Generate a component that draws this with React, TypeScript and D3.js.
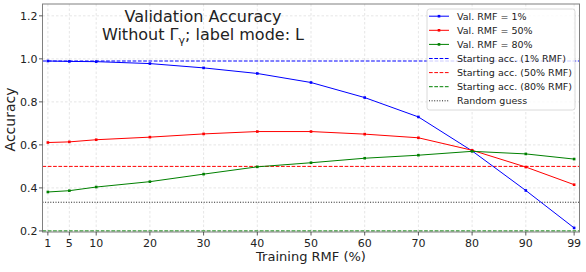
import React from "react";
import * as d3 from "d3";

const xTicks = [1, 5, 10, 20, 30, 40, 50, 60, 70, 80, 90, 99];
const yTicks = [0.2, 0.4, 0.6, 0.8, 1.0, 1.2];
const rmf1 = [0.99, 0.988, 0.987, 0.978, 0.958, 0.932, 0.89, 0.82, 0.73, 0.572, 0.388, 0.214];
const rmf50 = [0.611, 0.614, 0.624, 0.636, 0.651, 0.662, 0.662, 0.65, 0.633, 0.575, 0.497, 0.415];
const rmf80 = [0.381, 0.387, 0.404, 0.429, 0.464, 0.498, 0.517, 0.538, 0.552, 0.57, 0.558, 0.534];
const startAcc = [0.99, 0.5, 0.2];
const randomGuess = 1 / 3;
const seriesNames = ["Val. RMF = 1%", "Val. RMF = 50%", "Val. RMF = 80%"];
const startNames = ["Starting acc. (1% RMF)", "Starting acc. (50% RMF)", "Starting acc. (80% RMF)"];
const colors = ["#0000ff", "#ff0000", "#008000"];

const W = 586, H = 272;
const L = 42.5, R = 579.5, T = 4, B = 232;
const FONT = "DejaVu Sans, sans-serif";

export default function App() {
  const x = d3.scaleLinear().domain([0, 100]).range([L, R]);
  const y = d3.scaleLinear().domain([0.195, 1.255]).range([B, T]);
  const line = d3.line<number>().x((_, i) => x(xTicks[i])).y((d) => y(d));
  const series = [rmf1, rmf50, rmf80];
  const legendItems = [
    ...seriesNames.map((n, i) => ({ name: n, color: colors[i], kind: "solid" })),
    ...startNames.map((n, i) => ({ name: n, color: colors[i], kind: "dash" })),
    { name: "Random guess", color: "#000", kind: "dot" },
  ];
  const lgX = 427, lgY = 9, lgW = 148, lgH = 101;
  return (
    <svg width={W} height={H} style={{ position: "absolute", left: 0, top: 0, background: "#fff" }} fontFamily={FONT}>
      <rect x={0} y={0} width={W} height={H} fill="#fff" />
      {/* grid */}
      {xTicks.map((t) => (
        <line key={"gx" + t} x1={x(t)} x2={x(t)} y1={T} y2={B} stroke="#b0b0b0" strokeOpacity={0.45} strokeWidth={0.7} strokeDasharray="2.5,2" />
      ))}
      {yTicks.map((t) => (
        <line key={"gy" + t} x1={L} x2={R} y1={y(t)} y2={y(t)} stroke="#b0b0b0" strokeOpacity={0.45} strokeWidth={0.7} strokeDasharray="2.5,2" />
      ))}
      {/* reference lines */}
      {startAcc.map((v, i) => (
        <line key={"s" + i} x1={L} x2={R} y1={y(v)} y2={y(v)} stroke={colors[i]} strokeWidth={1} strokeDasharray="3.7,1.6" />
      ))}
      <line x1={L} x2={R} y1={y(randomGuess)} y2={y(randomGuess)} stroke="#000" strokeWidth={0.9} strokeDasharray="1,1.6" />
      {/* series */}
      {series.map((s, i) => (
        <g key={"ser" + i}>
          <path d={line(s) || ""} fill="none" stroke={colors[i]} strokeWidth={1} />
          {s.map((v, j) => (
            <rect key={j} x={x(xTicks[j]) - 1.3} y={y(v) - 1.3} width={2.6} height={2.6} fill={colors[i]} />
          ))}
        </g>
      ))}
      {/* spines */}
      <rect x={L} y={T} width={R - L} height={B - T} fill="none" stroke="#808080" strokeWidth={1} />
      {/* ticks */}
      {xTicks.map((t) => (
        <g key={"xt" + t}>
          <line x1={x(t)} x2={x(t)} y1={B} y2={B + 3.5} stroke="#333" strokeWidth={0.8} />
          <text x={x(t)} y={B + 15} textAnchor="middle" fontSize={11} fill="#222">{t}</text>
        </g>
      ))}
      {yTicks.map((t) => (
        <g key={"yt" + t}>
          <line x1={L - 3.5} x2={L} y1={y(t)} y2={y(t)} stroke="#333" strokeWidth={0.8} />
          <text x={L - 5} y={y(t) + 4} textAnchor="end" fontSize={11} fill="#222">{t.toFixed(1)}</text>
        </g>
      ))}
      <text x={(L + R) / 2} y={261} textAnchor="middle" fontSize={13} fill="#222">Training RMF (%)</text>
      <text transform={`translate(15,119.5) rotate(-90)`} textAnchor="middle" fontSize={14} fill="#222">Accuracy</text>
      {/* title */}
      <text x={203} y={22} textAnchor="middle" fontSize={16} fill="#222">Validation Accuracy</text>
      <text x={203} y={40} textAnchor="middle" fontSize={16} fill="#222">
        Without Γ<tspan fontSize={11} dy={4}>γ</tspan><tspan dy={-4}>; label mode: L</tspan>
      </text>
      {/* legend */}
      <rect x={lgX} y={lgY} width={lgW} height={lgH} rx={2.5} fill="#fff" fillOpacity={0.8} stroke="#d0d0d0" strokeWidth={0.8} />
      {legendItems.map((it, i) => {
        const cy = 16.2 + i * 14.1;
        return (
          <g key={"lg" + i}>
            <line x1={429} x2={449} y1={cy} y2={cy} stroke={it.color} strokeWidth={it.kind === "dot" ? 0.9 : 1}
              strokeDasharray={it.kind === "dash" ? "3.7,1.6" : it.kind === "dot" ? "1,1.6" : undefined} />
            {it.kind === "solid" && <rect x={437.7} y={cy - 1.3} width={2.6} height={2.6} fill={it.color} />}
            <text x={457} y={cy + 3.4} fontSize={9.5} fill="#222">{it.name}</text>
          </g>
        );
      })}
    </svg>
  );
}
